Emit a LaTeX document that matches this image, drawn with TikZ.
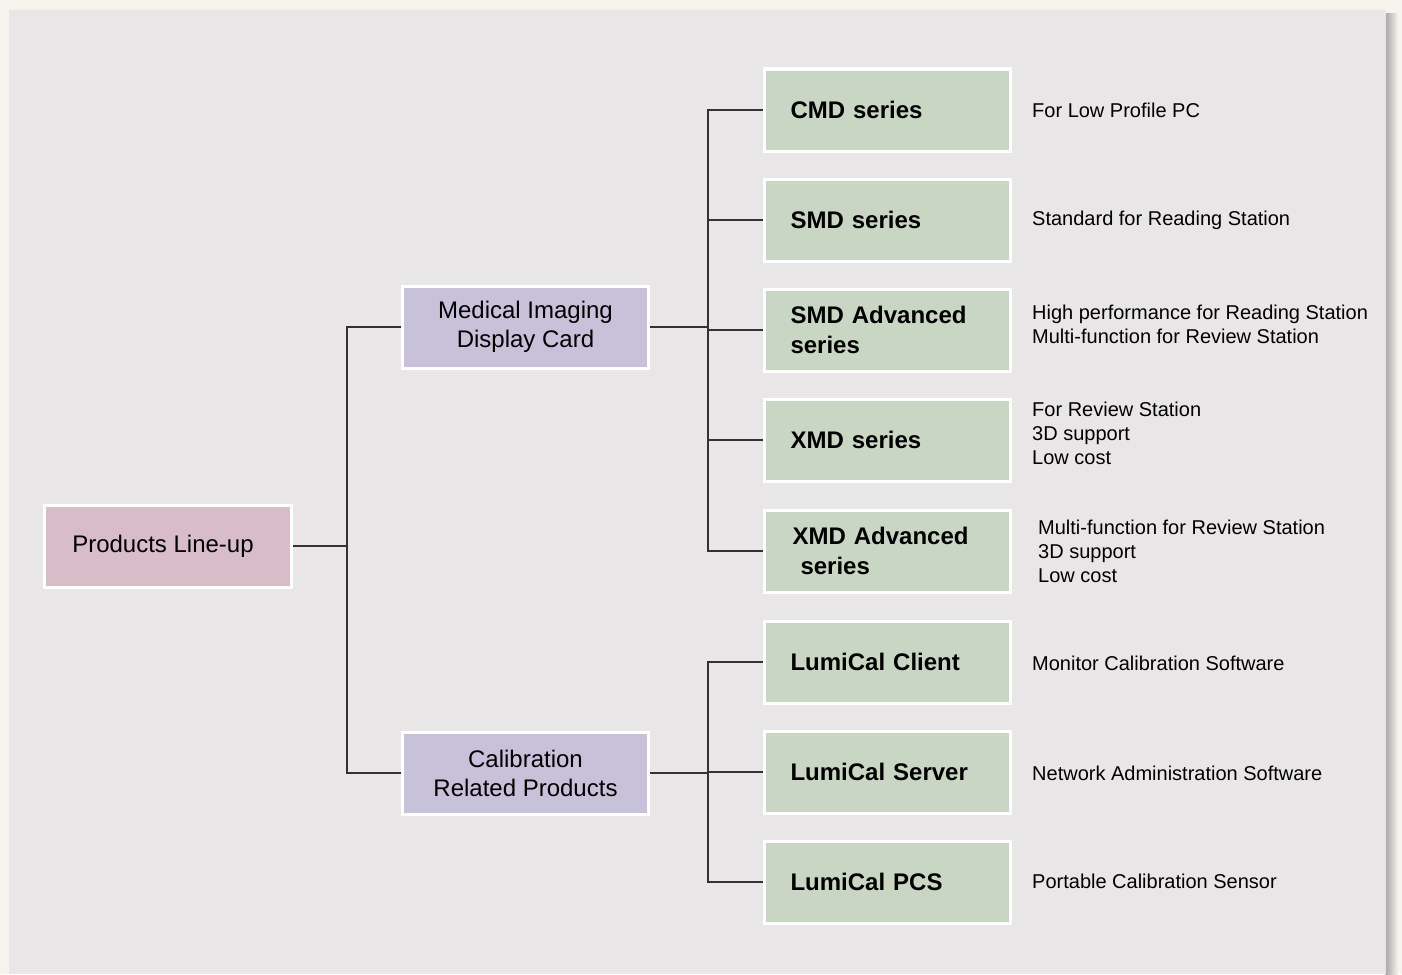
\documentclass[tikz,border=0pt]{standalone}
\usepackage{fontspec}
\setmainfont{Liberation Sans}
\begin{document}
\begin{tikzpicture}[x=1pt,y=-1pt,
  box/.style={draw=white,line width=3pt,minimum height=82pt,inner sep=0pt},
  rootbox/.style={box,fill=pinkc,minimum width=247pt,font=\fontsize{24}{29}\selectfont,align=center},
  midbox/.style={box,fill=lavc,minimum width=246pt,font=\fontsize{24}{29}\selectfont,align=center},
  leafbox/.style={box,fill=greenc,text width=194pt,inner xsep=26pt,align=left,font=\fontsize{24}{30}\selectfont\bfseries},
  desc/.style={anchor=west,align=left,inner sep=0pt,font=\fontsize{20}{24}\selectfont},
  conn/.style={draw=linec,line width=1.3pt}]
\definecolor{pinkc}{RGB}{216,188,200}
\definecolor{lavc}{RGB}{200,193,218}
\definecolor{greenc}{RGB}{201,214,196}
\definecolor{linec}{RGB}{50,50,50}
\definecolor{creamc}{RGB}{246,243,236}
\definecolor{panelc}{RGB}{232,230,230}
\useasboundingbox (0,0) rectangle (1402,974);
\fill[creamc] (0,0) rectangle (1402,974);
\shade[left color=gray!70,right color=creamc] (1385,14) rectangle (1398,974);
\fill[panelc] (9,10) rectangle (1386,974);

% root
\node[rootbox] (prod) at (168,546) {Products Line-up\hspace{10pt}};
% middle
\node[midbox] (med) at (525.5,327) {Medical Imaging\hspace{3pt}\\Display Card\hspace{3pt}};
\node[midbox] (cal) at (525.5,773) {Calibration\\Related Products};
% leaves
\node[leafbox] (cmd)  at (887.5,110) {CMD series};
\node[leafbox] (smd)  at (887.5,220) {SMD series};
\node[leafbox] (smda) at (887.5,330) {SMD Advanced\\series};
\node[leafbox] (xmd)  at (887.5,440) {XMD series};
\node[leafbox] (xmda) at (887.5,551) {\hspace{2pt}XMD Advanced\\\hspace{10pt}series};
\node[leafbox] (lcc)  at (887.5,662) {LumiCal Client};
\node[leafbox] (lcs)  at (887.5,772) {LumiCal Server};
\node[leafbox] (pcs)  at (887.5,882) {LumiCal PCS};

% descriptions
\node[desc] (dcmd)  at (1032,110) {For Low Profile PC};
\node[desc] (dsmd)  at (1032,220) {Standard for Reading Station};
\node[desc] (dsmda) at (1032,324) {High performance for Reading Station\\Multi-function for Review Station};
\node[desc] (dxmd)  at (1032,433) {For Review Station\\3D support\\Low cost};
\node[desc] (dxmda) at (1038,551) {Multi-function for Review Station\\3D support\\Low cost};
\node[desc] (dlcc)  at (1032,663) {Monitor Calibration Software};
\node[desc] (dlcs)  at (1032,773) {Network Administration Software};
\node[desc] (dpcs)  at (1032,881) {Portable Calibration Sensor};

% junction columns
\coordinate (j1) at (347,0);
\coordinate (j2) at (708,0);

\draw[conn] (prod.east) -- (prod.east -| j1);
\draw[conn] (med.west) -- (med.west -| j1) -- (cal.west -| j1) -- (cal.west);

\draw[conn] (med.east) -- (med.east -| j2);
\draw[conn] (cmd.west) -- (cmd.west -| j2) -- (xmda.west -| j2) -- (xmda.west);
\foreach \n in {smd,smda,xmd} \draw[conn] (\n.west) -- (\n.west -| j2);

\draw[conn] (cal.east) -- (cal.east -| j2);
\draw[conn] (lcc.west) -- (lcc.west -| j2) -- (pcs.west -| j2) -- (pcs.west);
\draw[conn] (lcs.west) -- (lcs.west -| j2);
\end{tikzpicture}
\end{document}
